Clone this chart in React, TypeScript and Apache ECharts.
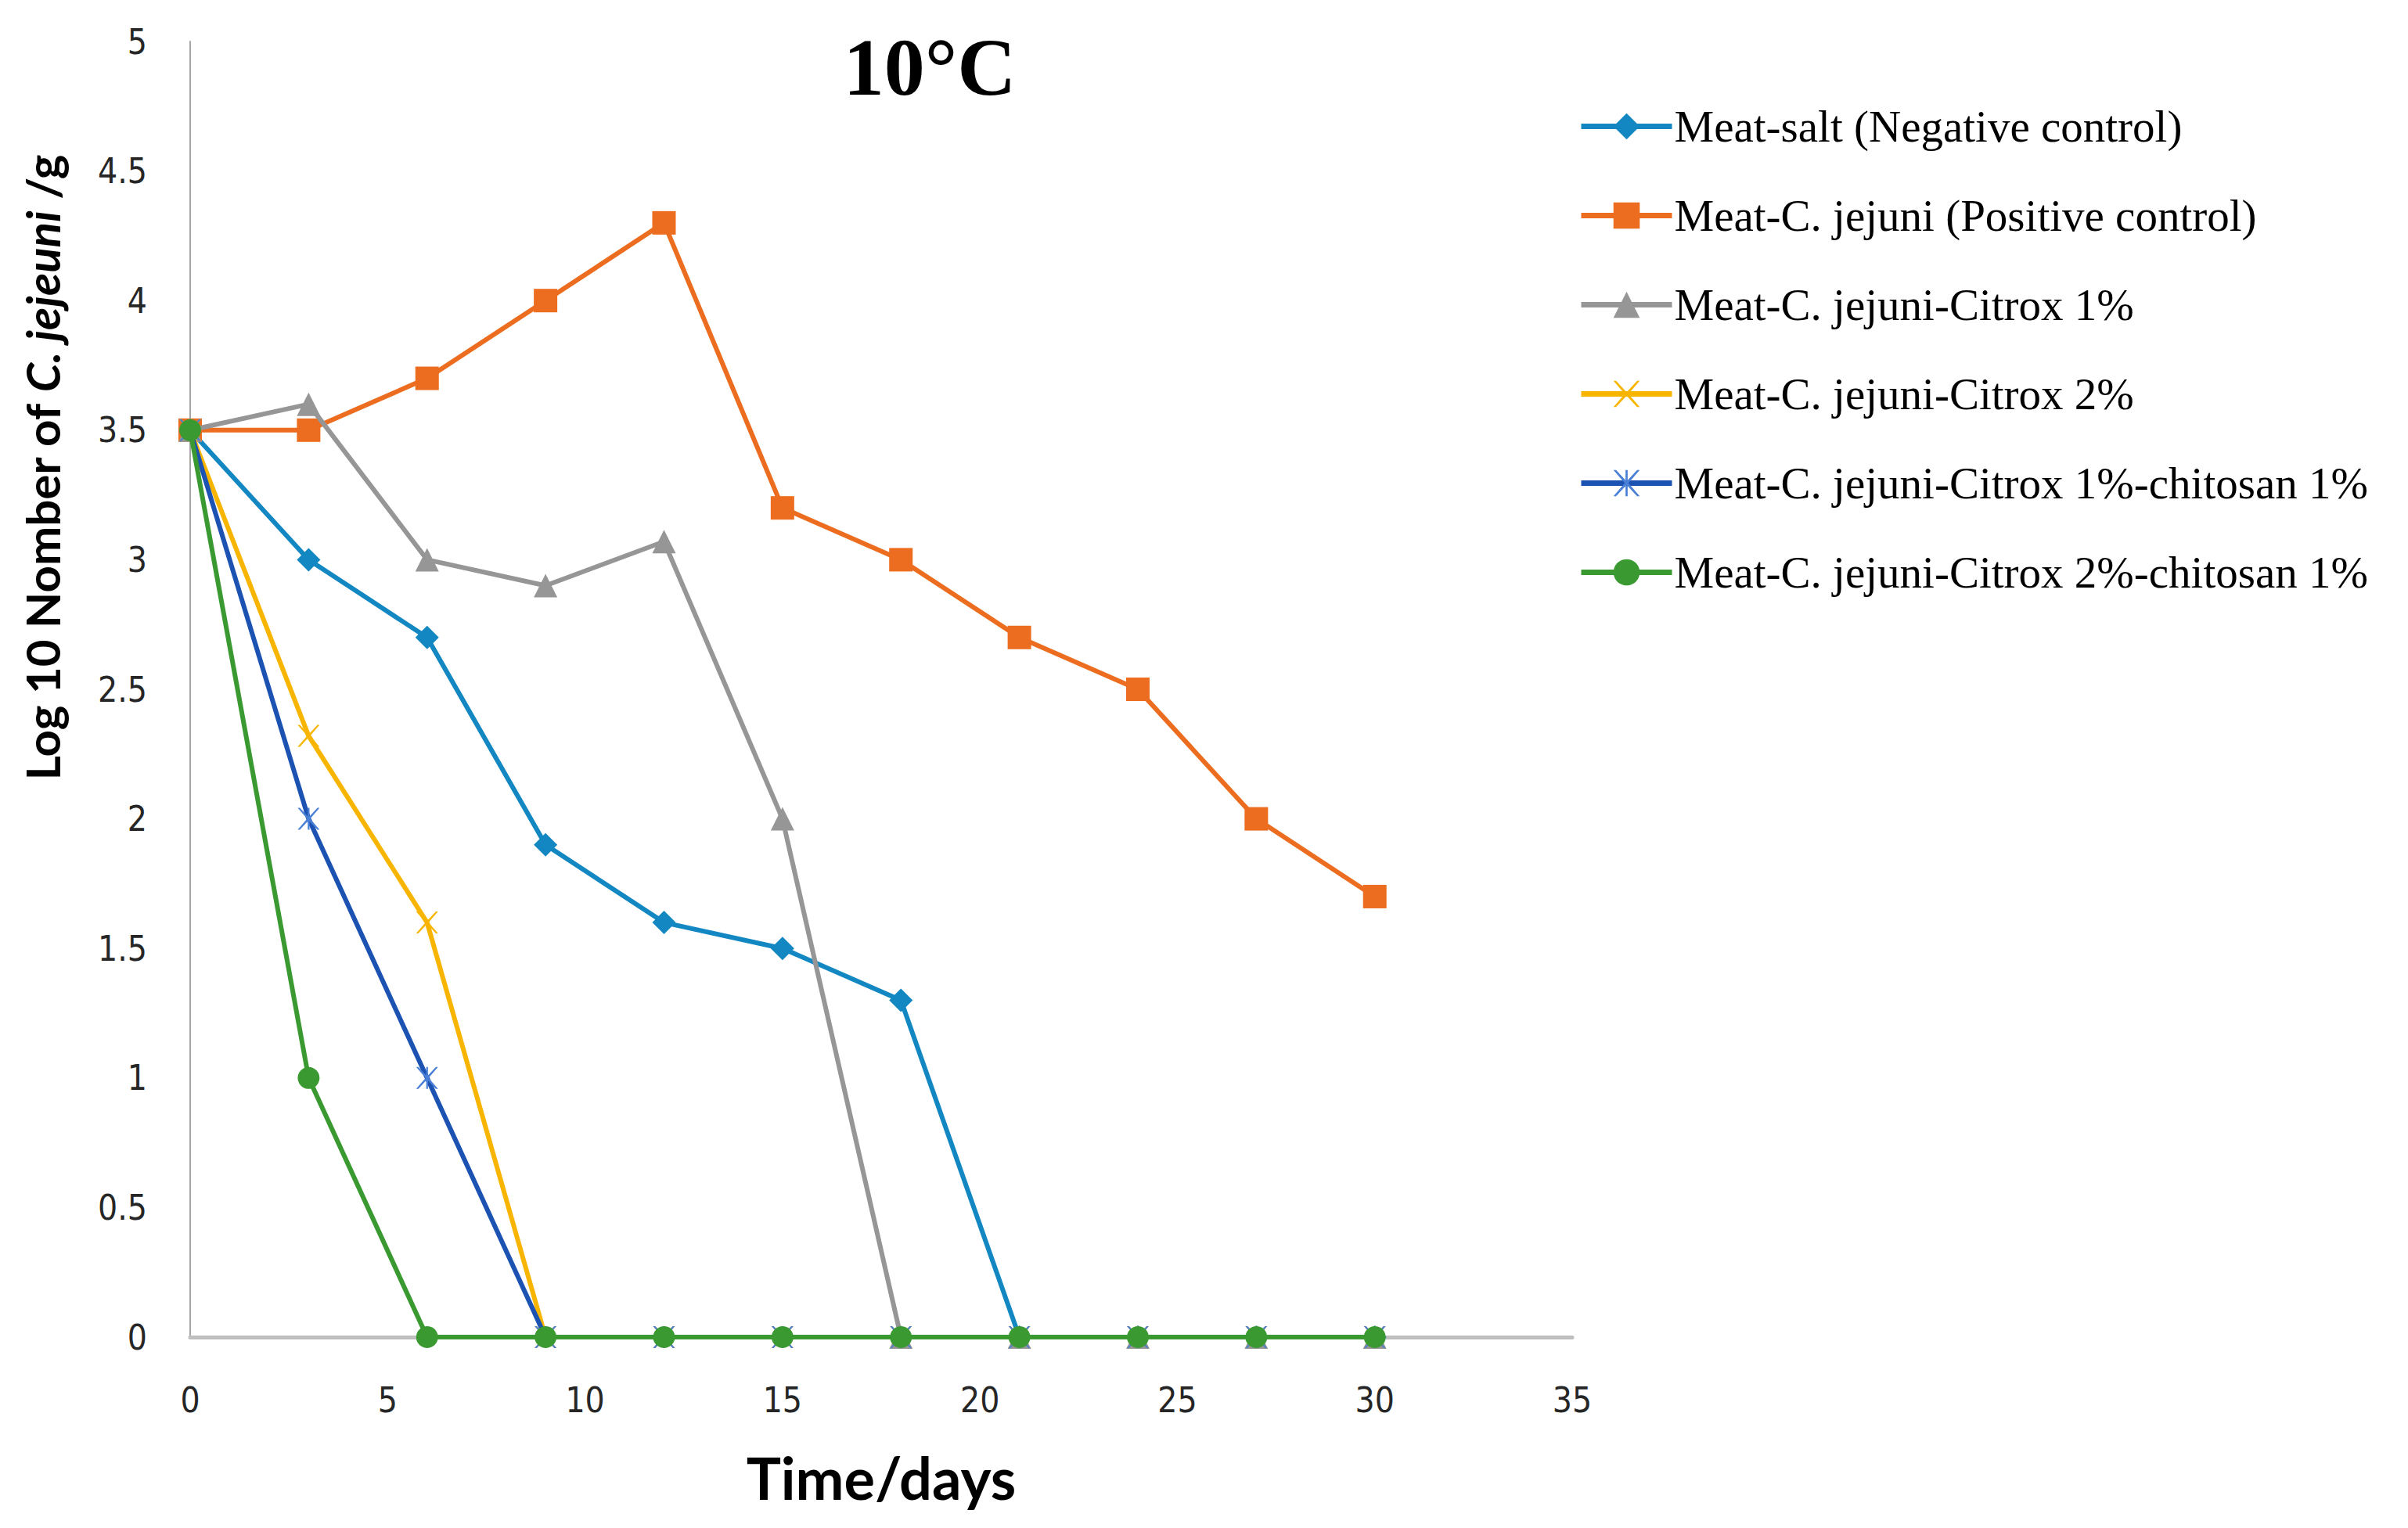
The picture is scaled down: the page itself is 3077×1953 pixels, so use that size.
import React, { useEffect, useRef } from "react";
import * as echarts from "echarts";

// días de muestreo y recuentos (log10 UFC/g)
const dias = [0, 3, 6, 9, 12, 15, 18, 21, 24, 27, 30];
const nombres = [
  "Meat-salt (Negative control)",
  "Meat-C. jejuni (Positive control)",
  "Meat-C. jejuni-Citrox 1%",
  "Meat-C. jejuni-Citrox 2%",
  "Meat-C. jejuni-Citrox 1%-chitosan 1%",
  "Meat-C. jejuni-Citrox 2%-chitosan 1%",
];
const salNegativo = [3.5, 3.0, 2.7, 1.9, 1.6, 1.5, 1.3, 0, 0, 0, 0];
const positivo = [3.5, 3.5, 3.7, 4.0, 4.3, 3.2, 3.0, 2.7, 2.5, 2.0, 1.7];
const citrox1 = [3.5, 3.6, 3.0, 2.9, 3.07, 2.0, 0, 0, 0, 0, 0];
const citrox2 = [3.5, 2.32, 1.6, 0, 0, 0, 0, 0, 0, 0, 0];
const citrox1Quito = [3.5, 2.0, 1.0, 0, 0, 0, 0, 0, 0, 0, 0];
const citrox2Quito = [3.5, 1.0, 0, 0, 0, 0, 0, 0, 0, 0, 0];

const colores = ["#1287C2", "#EC6D1F", "#969696", "#F7B500", "#1C52B2", "#3A9A31"];

const SIMBOLO_X =
  "path://M0,0 L1,0 L5,4.3 L9,0 L10,0 L5.7,5 L10,10 L9,10 L5,5.7 L1,10 L0,10 L4.3,5 Z";
const SIMBOLO_ASTER =
  "path://M0,0 L1,0 L5,4.3 L9,0 L10,0 L5.7,5 L10,10 L9,10 L5,5.7 L1,10 L0,10 L4.3,5 Z M4.6,0 L5.4,0 L5.4,10 L4.6,10 Z";

const FUENTE_TICKS = "'DejaVu Sans Condensed', Roboto, sans-serif";

const App: React.FC = () => {
  const chartRef = useRef<HTMLDivElement | null>(null);

  useEffect(() => {
    if (!chartRef.current) return;
    const chart = echarts.init(chartRef.current, undefined, { renderer: "svg" });

    const datos = [salNegativo, positivo, citrox1, citrox2, citrox1Quito, citrox2Quito];
    const simbolos = ["diamond", "rect", "triangle", SIMBOLO_X, SIMBOLO_ASTER, "circle"];
    const tamanos = [30, 30, 30, 28, 28, 28];
    const colorMarca = ["#1287C2", "#EC6D1F", "#969696", "#F7B500", "#4A7FD6", "#3A9A31"];

    const series: any[] = datos.map((serie, i) => ({
      name: nombres[i],
      type: "line",
      data: serie.map((v, j) => [dias[j], v]),
      symbol: simbolos[i],
      symbolSize: tamanos[i],
      lineStyle: { color: colores[i], width: 6 },
      itemStyle: { color: colorMarca[i] },
      z: 2 + i,
    }));

    const option: echarts.EChartsOption = {
      animation: false,
      backgroundColor: "#ffffff",
      title: {
        text: "10°C",
        left: 1183,
        top: 28,
        textAlign: "center",
        textStyle: {
          fontFamily: "Liberation Serif",
          fontWeight: "bold",
          fontSize: 104,
          color: "#000000",
        },
      },
      legend: {
        orient: "vertical",
        left: 2012,
        top: 128,
        itemWidth: 116,
        itemHeight: 42,
        itemGap: 57,
        data: nombres,
        lineStyle: { width: 7 },
        textStyle: {
          fontFamily: "Liberation Serif",
          fontSize: 57,
          lineHeight: 56,
          color: "#000000",
          padding: [0, 0, 0, -2],
        },
      },
      grid: { left: 243, right: 1068, top: 53, bottom: 244 },
      xAxis: {
        type: "value",
        min: 0,
        max: 35,
        interval: 5,
        name: "Time/days",
        nameLocation: "middle",
        nameGap: 142,
        nameTextStyle: {
          fontFamily: "Lato",
          fontWeight: "bold",
          fontSize: 74,
          color: "#000000",
        },
        axisLine: { lineStyle: { color: "#BFBFBF", width: 5 } },
        axisTick: { show: false },
        splitLine: { show: false },
        axisLabel: {
          margin: 58,
          fontFamily: FUENTE_TICKS,
          fontSize: 44,
          color: "#262626",
        },
      },
      yAxis: {
        type: "value",
        min: 0,
        max: 5,
        interval: 0.5,
        axisLine: { show: true, lineStyle: { color: "#A6A6A6", width: 2 } },
        axisTick: { show: false },
        splitLine: { show: false },
        axisLabel: {
          margin: 55,
          fontFamily: FUENTE_TICKS,
          fontSize: 44,
          color: "#262626",
        },
      },
      graphic: [
        {
          type: "text",
          x: 54,
          y: 598,
          rotation: Math.PI / 2,
          style: {
            text: "{a|Log 10 Nomber of }{b|C. jejeuni}{a| /g}",
            align: "center",
            verticalAlign: "middle",
            rich: {
              a: {
                fontFamily: "Lato",
                fontWeight: "bold",
                fontSize: 60,
                fill: "#000000",
              },
              b: {
                fontFamily: "Lato",
                fontWeight: "bold",
                fontStyle: "italic",
                fontSize: 60,
                fill: "#000000",
              },
            },
          } as any,
        },
      ],
      series,
    };

    chart.setOption(option);
    return () => {
      chart.dispose();
    };
  }, []);

  return (
    <div
      ref={chartRef}
      style={{ position: "fixed", left: 0, top: 0, width: "3077px", height: "1953px" }}
    />
  );
};

export default App;
